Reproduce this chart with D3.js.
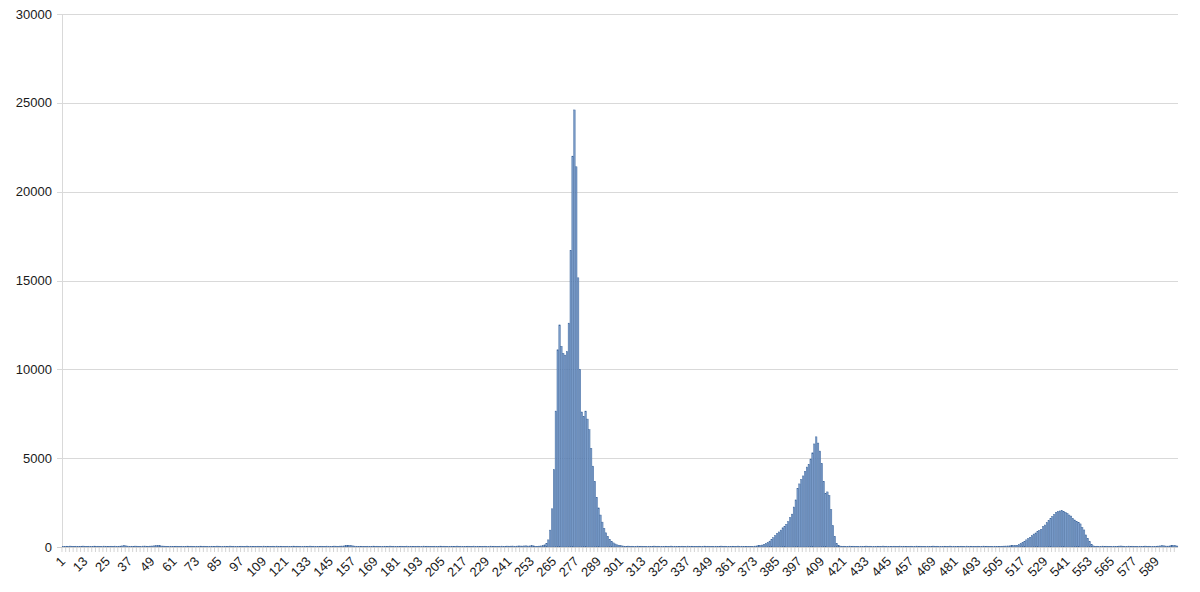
<!DOCTYPE html>
<html>
<head>
<meta charset="utf-8">
<script src="https://cdn.jsdelivr.net/npm/d3@7"></script>
<style>
  html, body { margin: 0; padding: 0; background: #fff; }
  svg { display: block; }
  text { font-family: "Liberation Sans", Arial, sans-serif; }
</style>
</head>
<body>
<svg id="chart" width="1200" height="592"></svg>
<script>
// ---- data ----
const yTicks = [0, 5000, 10000, 15000, 20000, 25000, 30000];

// categories 1..254
const baseA = [
  40,35,45,30,50,40,35,45,40,30,45,50,35,40,45,30,40,50,35,45,
  40,35,50,45,30,40,45,35,50,40,45,50,60,80,60,50,40,45,35,50,
  45,40,35,50,55,45,40,50,55,65,75,80,70,55,50,45,40,35,45,40,
  35,45,40,30,45,40,35,50,40,45,30,40,45,35,50,40,45,35,40,30,
  45,40,35,50,45,40,30,45,40,35,50,40,45,35,40,30,45,40,35,50,
  40,45,35,40,30,45,40,35,50,40,45,30,40,45,35,50,40,45,35,40,
  30,45,40,35,50,40,45,35,40,30,45,40,35,50,40,45,35,40,30,45,
  40,35,50,45,40,35,50,45,40,50,55,60,70,80,85,70,60,50,45,40,
  45,35,40,30,45,40,35,50,40,45,35,40,30,45,40,35,50,40,45,35,
  40,30,45,40,35,50,40,45,35,40,30,45,40,35,50,40,45,35,40,30,
  45,40,35,50,40,45,35,40,30,45,40,35,50,40,45,35,40,30,45,40,
  35,50,40,45,35,40,30,45,40,35,50,40,45,35,40,45,50,40,45,50,
  45,50,55,45,50,60,55,50,60,65,55,60,70,65
];
// categories 255..302
const peak1 = [
  30,40,50,60,80,120,200,400,950,2150,4350,
  7650,11100,12500,11300,10900,10800,11000,12600,16700,22000,24600,
  21400,15150,10000,7600,7350,7650,7200,6600,5550,4550,3700,2800,2200,1800,1400,
  1050,800,600,430,320,230,170,120,90,70,60
];
// categories 303..369
const baseB = [
  45,40,50,35,45,40,35,50,40,45,35,40,30,45,40,35,50,40,45,35,
  40,30,45,40,35,50,40,45,35,40,30,45,40,35,50,40,45,35,40,30,
  45,40,35,50,40,45,35,40,30,45,40,35,50,40,45,35,40,30,45,40,
  35,50,40,45,35,40,30
];
// categories 370..420
const peak2 = [
  30,40,40,50,60,70,90,110,150,200,250,330,420,520,640,760,850,950,1080,1170,
  1280,1420,1650,1850,2250,2650,3300,3550,3800,4000,4250,4500,4650,4950,5300,5800,
  6200,5850,5400,4700,3700,3000,3100,2900,2100,1200,600,200,90,50,30
];
// categories 421..504
const baseC = [
  45,40,35,50,40,45,35,40,30,45,40,35,50,40,45,35,40,30,45,40,
  35,50,40,45,35,40,30,45,40,35,50,40,45,35,40,30,45,40,35,50,
  40,45,35,40,30,45,40,35,50,40,45,35,40,30,45,40,35,50,40,45,
  35,40,30,45,40,35,50,40,45,35,40,30,45,40,35,50,40,45,35,40,
  30,45,40,35
];
// categories 505..556
const peak3 = [
  40,45,50,55,60,65,70,75,85,95,130,190,250,320,400,470,550,640,730,790,
  860,930,1000,1150,1240,1370,1480,1600,1720,1830,1950,2000,2030,2050,2000,1950,
  1890,1800,1740,1600,1520,1430,1370,1300,1100,960,680,490,300,150,60,30
];
// categories 557..600
const baseD = [
  45,40,35,50,40,45,35,40,30,45,40,35,50,55,45,40,35,50,40,45,
  35,40,30,45,40,35,50,40,45,35,40,30,45,50,60,70,65,55,50,60,
  70,80,70,55
];

const values = [].concat(baseA, peak1, baseB, peak2, baseC, peak3, baseD);
const categories = values.map((v, i) => i + 1);
const labelEvery = 12;
const xTickLabels = categories.filter(c => (c - 1) % labelEvery === 0);

(function () {
  // ---- layout ----
  const mLeft = 62, mRight = 1178, mTop = 14, mBottom = 547;
  const svg = d3.select("#chart");

  const x = d3.scaleBand().domain(categories).range([mLeft, mRight]).paddingInner(0.22).paddingOuter(0.1);
  const y = d3.scaleLinear().domain([0, 30000]).range([mBottom, mTop]);

  // gridlines
  svg.append("g").selectAll("line").data(yTicks.filter(d => d > 0)).join("line")
    .attr("x1", mLeft - 5).attr("x2", mRight)
    .attr("y1", d => Math.round(y(d)) + 0.5).attr("y2", d => Math.round(y(d)) + 0.5)
    .attr("stroke", "#d9d9d9").attr("stroke-width", 1);

  // y axis line
  svg.append("line").attr("x1", mLeft + 0.5).attr("x2", mLeft + 0.5)
    .attr("y1", mTop).attr("y2", mBottom)
    .attr("stroke", "#d9d9d9");

  // y labels
  svg.append("g").selectAll("text").data(yTicks).join("text")
    .attr("x", mLeft - 10).attr("y", d => y(d))
    .attr("dy", "0.35em").attr("text-anchor", "end")
    .attr("font-size", 13).attr("fill", "#1a1a1a")
    .text(d => d);

  // bars
  svg.append("g").selectAll("rect").data(values).join("rect")
    .attr("x", (d, i) => x(categories[i]))
    .attr("width", x.bandwidth())
    .attr("y", d => y(d))
    .attr("height", d => mBottom - y(d))
    .attr("fill", "#7b9dca")
    .attr("stroke", "#3c659c")
    .attr("stroke-width", 0.45);

  // x axis line (zero line)
  svg.append("line").attr("x1", mLeft - 5).attr("x2", mRight)
    .attr("y1", mBottom + 0.5).attr("y2", mBottom + 0.5)
    .attr("stroke", "#d0d0d0");

  // minor ticks every 2 categories
  const step = x.step();
  svg.append("g").selectAll("line").data(categories.filter(c => c % 2 === 1)).join("line")
    .attr("x1", c => x(c) - step * x.paddingInner() / 2)
    .attr("x2", c => x(c) - step * x.paddingInner() / 2)
    .attr("y1", mBottom).attr("y2", mBottom + 5)
    .attr("stroke", "#c8c8c8").attr("stroke-width", 0.8);

  // x labels
  svg.append("g").selectAll("text").data(xTickLabels).join("text")
    .attr("transform", c => `translate(${x(c) + x.bandwidth() / 2},${mBottom + 12}) rotate(-45)`)
    .attr("text-anchor", "end").attr("dy", "0.35em")
    .attr("font-size", 13).attr("fill", "#1a1a1a")
    .text(c => c);
})();
</script>
</body>
</html>
